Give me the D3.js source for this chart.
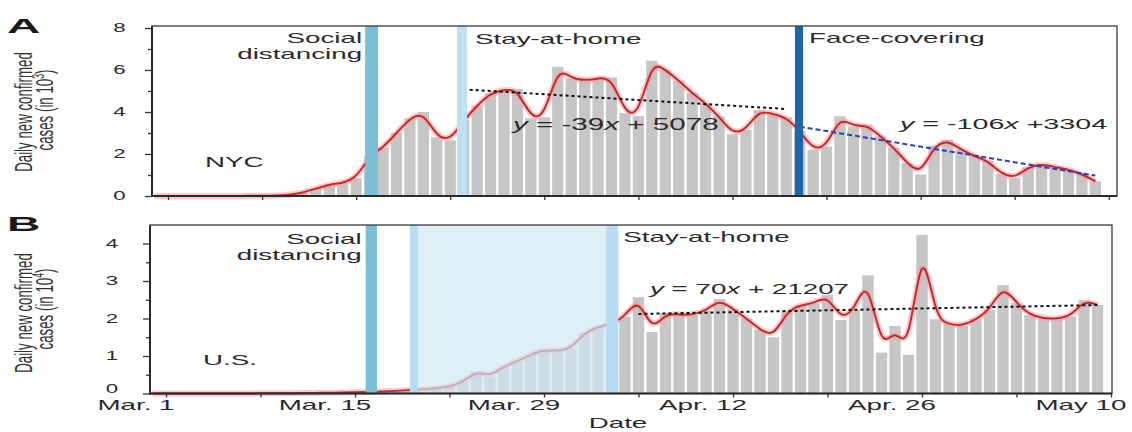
<!DOCTYPE html>
<html>
<head>
<meta charset="utf-8">
<script src="https://cdn.jsdelivr.net/npm/d3@7"></script>
<style>
  html, body { margin: 0; padding: 0; background: #fff; }
  svg { display: block; font-family: "Liberation Sans", Arial, Helvetica, sans-serif; }
  text { white-space: pre; }
</style>
</head>
<body>
<svg id="chart" width="1132" height="432"></svg>
<script>
// ---- Data -------------------------------------------------------------
const firstDay = "2020-02-29";
const lastDay = "2020-05-09";

// NYC daily new confirmed cases, in thousands (Feb 29 .. May 9)
const nycCases = [
  0,
  0, 0, 0, 0, 0, 0, 0.01, 0.01,
  0.02, 0.05, 0.15, 0.35, 0.55, 0.62, 0.85,
  1.9, 2.3, 3.0, 3.7, 4.0, 2.8, 2.65,
  3.6, 4.3, 4.9, 5.05, 5.1, 3.7, 3.75,
  6.15, 5.6, 5.5, 5.6, 5.65, 3.95, 3.8,
  6.45, 6.0, 5.5, 4.9, 4.4, 3.8, 2.95,
  3.15, 4.1, 3.9, 3.75, 3.1, 2.2, 2.35,
  3.8, 3.3, 3.4, 2.85, 2.3, 1.56, 1.02,
  2.4, 2.67, 2.2, 1.9, 1.68, 1.05, 0.85,
  1.38, 1.52, 1.38, 1.25, 1.05, 0.7
];

// U.S. daily new confirmed cases, in ten-thousands (Feb 29 .. May 9)
const usCases = [
  0,
  0, 0, 0, 0, 0, 0, 0, 0.005,
  0.005, 0.01, 0.01, 0.015, 0.02, 0.025, 0.03,
  0.04, 0.05, 0.07, 0.09, 0.11, 0.14, 0.18,
  0.3, 0.6, 0.45, 0.72, 0.86, 1.03, 1.17,
  1.13, 1.2, 1.62, 1.78, 1.85, 2.05, 2.57,
  1.64, 2.15, 2.1, 2.1, 2.2, 2.52, 2.25,
  2.0, 1.7, 1.5, 2.2, 2.36, 2.4, 2.63,
  1.96, 2.23, 3.15, 1.09, 1.8, 1.03, 4.23,
  1.98, 1.85, 1.8, 1.98, 2.22, 2.89, 2.41,
  2.09, 2.0, 2.0, 2.05, 2.49, 2.36
];

// Weekly date ticks and their labels
const tickDates = ["2020-03-01", "2020-03-08", "2020-03-15", "2020-03-22", "2020-03-29",
  "2020-04-05", "2020-04-12", "2020-04-19", "2020-04-26", "2020-05-03", "2020-05-10"];
const tickLabels = ["Mar. 1", "", "Mar. 15", "", "Mar. 29", "", "Apr. 12", "", "Apr. 26", "", "May 10"];

const nycMajorTicks = [0, 2, 4, 6, 8];
const nycMinorTicks = [1, 3, 5, 7];
const usMajorTicks = [0, 1, 2, 3, 4];
const usMinorTicks = [0.5, 1.5, 2.5, 3.5];

// Policy periods
const nycPolicies = [
  { name: "Social distancing", from: "2020-03-15T16:00Z", to: "2020-03-16T15:00Z", color: "#79bfd8" },
  { name: "Stay-at-home", from: "2020-03-22T12:00Z", to: "2020-03-23T06:00Z", color: "#bfe0f2" },
  { name: "Face-covering", from: "2020-04-16T15:30Z", to: "2020-04-17T06:00Z", color: "#1d66aa" }
];
const usPolicies = [
  { name: "Social distancing", from: "2020-03-15T19:00Z", to: "2020-03-16T15:00Z", color: "#79bfd8" },
  { name: "Stay-at-home start", from: "2020-03-19T01:40Z", to: "2020-03-19T16:00Z", color: "#b7dbf0" },
  { name: "Stay-at-home end", from: "2020-04-02T14:30Z", to: "2020-04-03T12:00Z", color: "#b7dbf0" }
];
const usStayAtHomeSpan = { from: "2020-03-19T01:40Z", to: "2020-04-03T12:00Z" };

// Linear fits (x = days since the start date, y = daily cases)
const nycFits = [
  { slope: -39, intercept: 5078, from: "2020-03-23", to: "2020-04-16", color: "#111", dash: "3,3" },
  { slope: -106, intercept: 3304, from: "2020-04-17", to: "2020-05-09", color: "#2b3fc0", dash: "5,3" }
];
const usFits = [
  { slope: 70, intercept: 21207, from: "2020-04-05", to: "2020-05-09", color: "#111", dash: "3,3" }
];

// ---- Helpers ----------------------------------------------------------
const SX = 1.85;            // horizontal stretch applied to all lettering
const DAY = 864e5;
const parseDay = d3.utcParse("%Y-%m-%d");
const dates = d3.utcDay.range(parseDay(firstDay), d3.utcDay.offset(parseDay(lastDay), 1));
const svg = d3.select("#chart");
const INK = "#2a2a2a";

function addText(g, x, y, content, opt = {}) {
  const t = g.append("text")
    .attr("transform", `translate(${x},${y}) scale(${opt.sx || SX},1)`)
    .attr("text-anchor", opt.anchor || "start")
    .attr("font-size", opt.size || 15)
    .attr("fill", opt.fill || INK);
  if (opt.weight) t.attr("font-weight", opt.weight);
  if (Array.isArray(content)) {
    content.forEach(([s, it]) => {
      const ts = t.append("tspan").text(s);
      if (it) ts.attr("font-style", "italic");
    });
  } else {
    t.text(content);
  }
  return t;
}

function addRotatedTitle(g, x, y, content, size) {
  const t = g.append("text")
    .attr("transform", `translate(${x},${y}) scale(${SX},1) rotate(-90)`)
    .attr("text-anchor", "middle")
    .attr("font-size", size)
    .attr("fill", "#333");
  content.forEach(([s, sup]) => {
    const ts = t.append("tspan").text(s);
    if (sup) ts.attr("baseline-shift", "super").attr("font-size", size * 0.65);
  });
}

function drawPanel(cfg) {
  const g = svg.append("g");
  const mar1 = parseDay("2020-03-01");
  const x = d3.scaleUtc()
    .domain([new Date(+mar1 - (cfg.mar1X - cfg.left) / cfg.pxPerDay * DAY),
             new Date(+mar1 + (cfg.right - cfg.mar1X) / cfg.pxPerDay * DAY)])
    .range([cfg.left, cfg.right]);
  const y = d3.scaleLinear()
    .domain([0, (cfg.bottom - cfg.top) / cfg.pxPerUnit])
    .range([cfg.bottom, cfg.top]);

  const series = dates.map((d, i) => ({ date: d, v: cfg.values[i] }));
  const step = x(dates[1]) - x(dates[0]);
  const bw = step * 0.84;

  // bars
  g.append("g").selectAll("rect").data(series).join("rect")
    .attr("x", d => x(d.date) - bw / 2)
    .attr("width", bw)
    .attr("y", d => y(d.v))
    .attr("height", d => y(0) - y(d.v))
    .attr("fill", "#c6c6c6");

  // smoothed trend
  const line = d3.line().x(d => x(d.date)).y(d => y(d.v)).curve(d3.curveBasis);
  g.append("path").attr("d", line(series))
    .attr("fill", "none").attr("stroke", "#f2a0a0").attr("stroke-opacity", 0.55)
    .attr("stroke-width", 6).attr("stroke-linejoin", "round");
  g.append("path").attr("d", line(series))
    .attr("fill", "none").attr("stroke", "#c8282d")
    .attr("stroke-width", 2).attr("stroke-linejoin", "round");

  // linear fits
  const fitLine = d3.line().x(d => x(d.date)).y(d => y(d.v));
  cfg.fits.forEach(f => {
    const s = parseDay(f.from), e = parseDay(f.to);
    const n = d3.utcDay.count(s, e);
    const pts = [0, n].map(k => ({ date: d3.utcDay.offset(s, k), v: (f.intercept + f.slope * k) / cfg.unit }));
    g.append("path").attr("d", fitLine(pts))
      .attr("fill", "none").attr("stroke", f.color)
      .attr("stroke-width", 2).attr("stroke-dasharray", f.dash);
  });

  // shaded period
  if (cfg.span) {
    const a = x(d3.isoParse(cfg.span.from)), b = x(d3.isoParse(cfg.span.to));
    g.append("rect").attr("x", a).attr("width", b - a)
      .attr("y", cfg.top).attr("height", cfg.bottom - cfg.top)
      .attr("fill", "#cfe8f5").attr("fill-opacity", 0.68);
  }

  // policy bands
  g.append("g").selectAll("rect").data(cfg.policies).join("rect")
    .attr("x", d => x(d3.isoParse(d.from)))
    .attr("width", d => x(d3.isoParse(d.to)) - x(d3.isoParse(d.from)))
    .attr("y", cfg.top).attr("height", cfg.bottom - cfg.top)
    .attr("fill", d => d.color);

  // axes
  const xAxis = d3.axisBottom(x).tickValues(tickDates.map(parseDay)).tickSize(4).tickFormat("");
  const xa = g.append("g").attr("transform", `translate(0,${cfg.bottom})`).call(xAxis);
  xa.select(".domain").remove();
  xa.selectAll("line").attr("stroke", "#333").attr("stroke-width", 1.3);

  const yMajor = d3.axisLeft(y).tickValues(cfg.majorTicks).tickSize(7).tickFormat("");
  const yMinor = d3.axisLeft(y).tickValues(cfg.minorTicks).tickSize(4).tickFormat("");
  [yMajor, yMinor].forEach(ax => {
    const s = g.append("g").attr("transform", `translate(${cfg.left},0)`).call(ax);
    s.select(".domain").remove();
    s.selectAll("line").attr("stroke", "#333").attr("stroke-width", 1.3);
  });

  // frame
  g.append("rect").attr("x", cfg.left).attr("y", cfg.top)
    .attr("width", cfg.right - cfg.left).attr("height", cfg.bottom - cfg.top)
    .attr("fill", "none").attr("stroke", "#3a3a3a").attr("stroke-width", 1.3);
  g.append("line").attr("x1", cfg.left).attr("x2", cfg.left)
    .attr("y1", cfg.top).attr("y2", cfg.bottom + 1)
    .attr("stroke", "#2a2a2a").attr("stroke-width", 2);
  g.append("line").attr("x1", cfg.left).attr("x2", cfg.right)
    .attr("y1", cfg.bottom).attr("y2", cfg.bottom)
    .attr("stroke", "#2a2a2a").attr("stroke-width", 1.8);

  // y tick labels (the zero label is nudged up when date labels sit beneath it)
  cfg.majorTicks.forEach(v => {
    const lift = (cfg.showDates && v === 0) ? 5 : 0;
    addText(g, cfg.left - cfg.yLabelGap, y(v) + 4.3 - lift, String(v), { anchor: "end", size: 12 });
  });

  // x tick labels
  if (cfg.showDates) {
    tickDates.forEach((d, i) => {
      if (tickLabels[i]) addText(g, x(parseDay(d)) - 30, cfg.bottom + 16, tickLabels[i], { anchor: "middle", size: 15 });
    });
  }

  return { g, x, y };
}

// ---- Panel A: NYC ------------------------------------------------------
const A = drawPanel({
  left: 152, right: 1117, top: 26, bottom: 196,
  mar1X: 168, pxPerDay: 13.44, pxPerUnit: 21,
  values: nycCases, unit: 1000,
  majorTicks: nycMajorTicks, minorTicks: nycMinorTicks, yLabelGap: 26.5,
  policies: nycPolicies, fits: nycFits, showDates: false
});
{
  const { g, x } = A;
  addText(g, 7, 33, "A", { size: 21, weight: "bold", sx: 2.2, fill: "#1a1a1a" });
  addRotatedTitle(g, 32, 112, [["Daily new confirmed", false]], 13.3);
  addRotatedTitle(g, 53, 110, [["cases (in 10", false], ["3", true], [")", false]], 13.3);
  const sd = x(d3.isoParse(nycPolicies[0].from));
  addText(g, sd - 3, 43, "Social", { anchor: "end" });
  addText(g, sd - 3, 58.5, "distancing", { anchor: "end" });
  addText(g, x(d3.isoParse(nycPolicies[1].to)) + 8, 44, "Stay-at-home");
  addText(g, x(d3.isoParse(nycPolicies[2].to)) + 6, 42.5, "Face-covering");
  addText(g, 205, 166.5, "NYC");
  addText(g, 513, 130, [["y", true], [" = -39", false], ["x", true], [" + 5078", false]], { size: 16 });
  addText(g, 900, 129.3, [["y", true], [" = -106", false], ["x", true], [" +3304", false]], { size: 15.5 });
}

// ---- Panel B: U.S. -----------------------------------------------------
const B = drawPanel({
  left: 150, right: 1112, top: 225, bottom: 393.5,
  mar1X: 166, pxPerDay: 13.5, pxPerUnit: 37.5,
  values: usCases, unit: 10000,
  majorTicks: usMajorTicks, minorTicks: usMinorTicks, yLabelGap: 32,
  policies: usPolicies, span: usStayAtHomeSpan, fits: usFits, showDates: true
});
{
  const { g, x } = B;
  addText(g, 7, 230.5, "B", { size: 21, weight: "bold", sx: 2.2, fill: "#1a1a1a" });
  addRotatedTitle(g, 32, 313, [["Daily new confirmed", false]], 13.3);
  addRotatedTitle(g, 53, 309, [["cases (in 10", false], ["4", true], [")", false]], 13.3);
  const sd = x(d3.isoParse(usPolicies[0].from));
  addText(g, sd - 4, 243.5, "Social", { anchor: "end" });
  addText(g, sd - 4, 259.5, "distancing", { anchor: "end" });
  addText(g, x(d3.isoParse(usStayAtHomeSpan.to)) + 5, 241.5, "Stay-at-home");
  addText(g, 203, 365, "U.S.");
  addText(g, 650, 294, [["y", true], [" = 70", false], ["x", true], [" + 21207", false]], { size: 15 });
  addText(g, 618, 427.5, "Date", { anchor: "middle", size: 15 });
}
</script>
</body>
</html>
